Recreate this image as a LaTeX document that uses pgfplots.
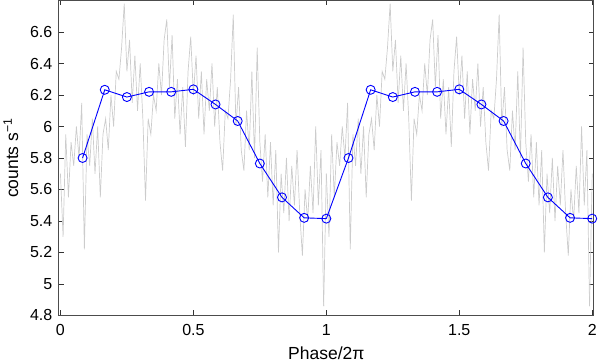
\documentclass[border=0pt]{standalone}
\usepackage{pgfplots}
\usepackage{pgfplotstable}
\pgfplotsset{compat=1.18}
\usepackage{fontspec}
\setmainfont{Liberation Sans}

% light curve, one cycle (repeated for phase 1-2)
\pgfplotstableread{
ph   rate
0.00 5.70
0.01 5.30
0.02 5.95
0.03 5.55
0.04 5.90
0.05 5.75
0.06 6.00
0.07 5.80
0.08 6.15
0.09 5.22
0.10 5.95
0.11 5.75
0.12 6.05
0.13 5.70
0.14 6.00
0.15 5.55
0.16 5.95
0.17 6.05
0.18 5.85
0.19 6.20
0.20 6.00
0.21 6.35
0.22 6.30
0.23 6.50
0.24 6.78
0.25 6.35
0.26 6.55
0.27 6.15
0.28 6.45
0.29 6.10
0.30 6.40
0.31 6.05
0.32 5.53
0.33 6.05
0.34 5.95
0.35 6.20
0.36 6.10
0.37 6.40
0.38 6.20
0.39 6.55
0.40 6.68
0.41 6.25
0.42 6.58
0.43 6.05
0.44 6.30
0.45 5.95
0.46 6.25
0.47 5.87
0.48 6.35
0.49 6.57
0.50 6.20
0.51 6.45
0.52 6.05
0.53 6.35
0.54 5.95
0.55 6.30
0.56 6.10
0.57 6.40
0.58 6.00
0.59 6.25
0.60 5.90
0.61 5.72
0.62 6.10
0.63 6.05
0.64 6.30
0.65 6.71
0.66 6.00
0.67 6.25
0.68 5.85
0.69 5.72
0.70 6.10
0.71 5.85
0.72 6.35
0.73 5.80
0.74 6.50
0.75 5.90
0.76 5.65
0.77 5.95
0.78 5.55
0.79 5.90
0.80 5.50
0.81 5.85
0.82 5.20
0.83 5.70
0.84 5.45
0.85 5.80
0.86 5.40
0.87 5.75
0.88 5.50
0.89 5.85
0.90 5.45
0.91 5.18
0.92 5.60
0.93 5.40
0.94 5.75
0.95 5.45
0.96 6.00
0.97 5.50
0.98 5.85
0.99 4.86
}\lc

\pgfplotstableread{
ph     rate
0.0833 5.800
0.1667 6.233
0.2500 6.187
0.3333 6.220
0.4167 6.220
0.5000 6.236
0.5833 6.140
0.6667 6.035
0.7500 5.765
0.8333 5.550
0.9167 5.420
1.0000 5.415
}\binned

\begin{document}
\begin{tikzpicture}
\begin{axis}[
  scale only axis,
  width=535pt, height=315pt,
  xmin=-0.006, xmax=2.006,
  ymin=4.8, ymax=6.8,
  xtick={0,0.5,1,1.5,2},
  ytick={4.8,5,5.2,5.4,5.6,5.8,6,6.2,6.4,6.6},
  xticklabels={0,0.5,1,1.5,2},
  yticklabels={4.8,5,5.2,5.4,5.6,5.8,6,6.2,6.4,6.6},
  tick align=inside,
  major tick length=5pt,
  tick style={black!80, line width=0.6pt},
  axis line style={black!70, line width=1pt},
  ticklabel style={font=\fontsize{16}{19}\selectfont},
  yticklabel style={xshift=-3pt},
  xticklabel style={yshift=-5pt},
  label style={font=\fontsize{17.5}{20}\selectfont},
  xlabel={Phase/2π},
  ylabel={counts s\textsuperscript{−1}},
  xlabel style={at={(axis description cs:0.5,0)}, anchor=base, yshift=-44pt},
  ylabel style={yshift=5pt},
  clip=true,
]
\addplot[color=black!20, line width=0.7pt] table[x=ph, y=rate] {\lc};
\addplot[color=black!20, line width=0.7pt] table[x expr=\thisrow{ph}+1, y=rate] {\lc};
\addplot[color=black!20, line width=0.7pt] coordinates {(0.99,4.86)(1.00,5.70)};
\addplot[color=black!20, line width=0.7pt] coordinates {(1.99,4.86)(2.00,5.70)};
\addplot[color=blue, line width=0.9pt, mark=o, mark size=4.5pt,
  mark options={line width=0.9pt}]
  table[x=ph, y=rate] {\binned};
\addplot[color=blue, line width=0.9pt, mark=o, mark size=4.5pt,
  mark options={line width=0.9pt}]
  table[x expr=\thisrow{ph}+1, y=rate] {\binned};
\addplot[color=blue, line width=0.9pt] coordinates {(1.0000,5.415)(1.0833,5.800)};
\end{axis}
\end{tikzpicture}
\end{document}
